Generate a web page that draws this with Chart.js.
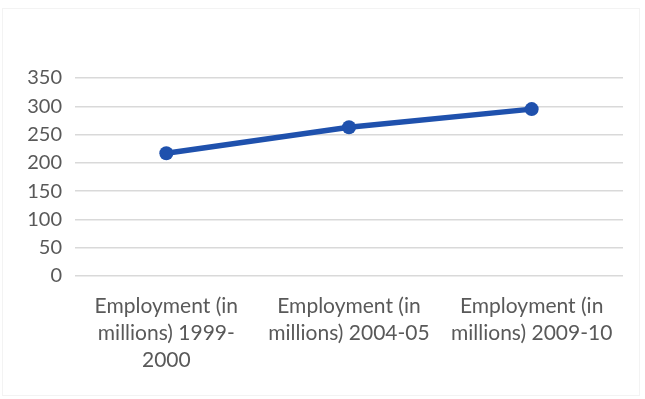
<!DOCTYPE html>
<html>
<head>
<meta charset="utf-8">
<script src="https://cdn.jsdelivr.net/npm/chart.js@4"></script>
<style>
  html, body { margin: 0; padding: 0; background: #fff; }
  #wrap { position: relative; width: 645px; height: 399px; }
  #frame { position: absolute; left: 2px; top: 8px; width: 638px; height: 388px; border: 1px solid #f3f3f3; box-sizing: border-box; }
</style>
</head>
<body>
<div id="wrap">
  <div id="frame"></div>
  <canvas id="chart" width="645" height="399"></canvas>
</div>
<script>
// categories (multi-line as in the original)
const categories = [
  ['Employment (in', 'millions) 1999-', '2000'],
  ['Employment (in', 'millions) 2004-05'],
  ['Employment (in', 'millions) 2009-10']
];
const employment = [217, 263, 295];
const yTicks = [0, 50, 100, 150, 200, 250, 300, 350];

const ctx = document.getElementById('chart');
new Chart(ctx, {
  type: 'line',
  data: {
    labels: categories,
    datasets: [{
      label: 'Employment',
      data: employment,
      borderColor: '#1f51ad',
      backgroundColor: '#1f51ad',
      borderWidth: 5.5,
      pointRadius: 7,
      pointHoverRadius: 7,
      pointBorderWidth: 0,
      fill: false,
      tension: 0
    }]
  },
  options: {
    responsive: false,
    animation: false,
    layout: { padding: { top: 78, right: 22, left: 0, bottom: 0 } },
    plugins: {
      legend: { display: false },
      tooltip: { enabled: false }
    },
    scales: {
      x: {
        offset: true,
        grid: { display: false },
        border: { display: false },
        ticks: {
          color: '#595959',
          font: { family: 'Lato', size: 21, lineHeight: 1.29 },
          padding: 9,
          maxRotation: 0,
          autoSkip: false
        },
        afterFit: function (axis) { axis.height = 123; }
      },
      y: {
        min: 0,
        max: 350,
        afterBuildTicks: function (axis) {
          axis.ticks = yTicks.map(v => ({ value: v }));
        },
        grid: { color: '#d9d9d9', lineWidth: 1.5, drawTicks: false },
        border: { display: false },
        ticks: {
          color: '#595959',
          font: { family: 'Lato', size: 20 },
          padding: 13
        },
        afterFit: function (axis) { axis.width = 75; }
      }
    }
  }
});
</script>
</body>
</html>
